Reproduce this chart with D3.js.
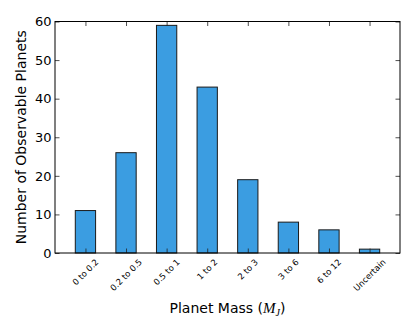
<!DOCTYPE html>
<html>
<head>
<meta charset="utf-8">
<script src="https://cdn.jsdelivr.net/npm/d3@7"></script>
<style>
  body { margin: 0; background: #fff; }
  svg text { font-family: "DejaVu Sans", sans-serif; fill: #000; }
</style>
</head>
<body>
<svg width="415" height="332"></svg>
<script>
// planet mass bins (Jupiter masses) and counts
const categories = ["0 to 0.2", "0.2 to 0.5", "0.5 to 1", "1 to 2", "2 to 3", "3 to 6", "6 to 12", "Uncertain"];
const counts = [11, 26, 59, 43, 19, 8, 6, 1];
const yTicks = [0, 10, 20, 30, 40, 50, 60];

const margin = { top: 21.5, right: 15, bottom: 79, left: 55 };
const width = 415 - margin.left - margin.right;
const height = 332 - margin.top - margin.bottom;

const svg = d3.select("svg");
const chart = svg.append("g")
  .attr("transform", `translate(${margin.left}, ${margin.top})`);

// bars sit at integer positions, xlim like pandas (-0.75, n - 0.25)
const x = d3.scaleLinear()
  .domain([-0.75, categories.length - 0.25])
  .range([0, width]);
const barW = x(0.5) - x(0);

const y = d3.scaleLinear()
  .domain([0, 60])
  .range([height, 0]);

// bars
chart.selectAll(".bar")
  .data(counts)
  .enter()
  .append("rect")
  .attr("class", "bar")
  .attr("x", (d, i) => x(i) - barW / 2)
  .attr("y", d => y(d))
  .attr("width", barW)
  .attr("height", d => height - y(d))
  .attr("fill", "#3b9de1")
  .attr("stroke", "#1a1a1a")
  .attr("stroke-width", 1);

// ticks pointing inwards on all four sides
const tickLen = 4.5;
const idx = categories.map((d, i) => i);

const xBottom = d3.axisBottom(x).tickValues(idx).tickSize(-tickLen).tickFormat("");
const xTop = d3.axisTop(x).tickValues(idx).tickSize(-tickLen).tickFormat("");
const yLeft = d3.axisLeft(y).tickValues(yTicks).tickSize(-tickLen).tickPadding(3.5);
const yRight = d3.axisRight(y).tickValues(yTicks).tickSize(-tickLen).tickFormat("");

const gb = chart.append("g").attr("transform", `translate(0, ${height})`).call(xBottom);
const gt = chart.append("g").call(xTop);
const gl = chart.append("g").call(yLeft);
const gr = chart.append("g").attr("transform", `translate(${width}, 0)`).call(yRight);

[gb, gt, gl, gr].forEach(g => {
  g.select(".domain").remove();
  g.selectAll(".tick line").attr("stroke", "#222").attr("stroke-width", 0.8);
});
gl.selectAll(".tick text")
  .style("font-size", "13px")
  .style("font-family", "DejaVu Sans");

// frame
chart.append("rect")
  .attr("x", 0)
  .attr("y", 0)
  .attr("width", width)
  .attr("height", height)
  .attr("fill", "none")
  .attr("stroke", "#000")
  .attr("stroke-width", 1);

// rotated category labels, centred under each tick
const labelTop = height + 4.5;
chart.selectAll(".xlab")
  .data(categories)
  .enter()
  .append("text")
  .attr("class", "xlab")
  .style("font-size", "8.5px")
  .attr("text-anchor", "middle")
  .attr("dominant-baseline", "central")
  .text(d => d)
  .each(function (d, i) {
    const w = this.getComputedTextLength();
    const h = 8.5;
    const cy = labelTop + (w + h) * Math.SQRT1_2 / 2;
    d3.select(this).attr("transform", `translate(${x(i)}, ${cy}) rotate(-45)`);
  });

// axis labels
const xl = chart.append("text")
  .attr("x", width / 2)
  .attr("y", height + 60)
  .attr("text-anchor", "middle")
  .style("font-size", "14px");
xl.append("tspan").text("Planet Mass (");
xl.append("tspan")
  .style("font-family", "Liberation Serif, serif")
  .style("font-style", "italic")
  .style("font-size", "15px")
  .text("M");
xl.append("tspan")
  .style("font-family", "Liberation Serif, serif")
  .style("font-style", "italic")
  .style("font-size", "10px")
  .attr("dy", 3)
  .text("J");
xl.append("tspan").attr("dy", -3).text(")");

chart.append("text")
  .attr("transform", "rotate(-90)")
  .attr("x", -height / 2)
  .attr("y", -margin.left + 25.5)
  .attr("text-anchor", "middle")
  .style("font-size", "14px")
  .text("Number of Observable Planets");
</script>
</body>
</html>
